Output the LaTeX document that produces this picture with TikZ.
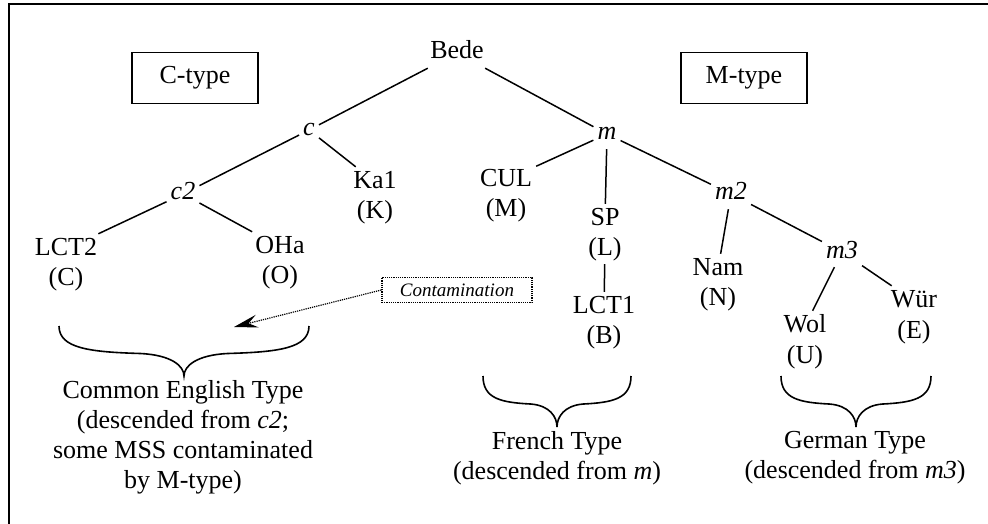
\documentclass[tikz,border=0pt]{standalone}
\usepackage{fontspec}
\setmainfont{Liberation Serif}
\usetikzlibrary{arrows.meta}
\tikzset{
  base/.style={font=\fontsize{26}{30}\selectfont},
  tn/.style={base, inner sep=4pt, text height=17pt, text depth=5pt},
  typebox/.style={base, draw, line width=1.5pt, minimum width=126pt, minimum height=51pt, inner sep=0pt},
  contam/.style={draw, densely dotted, line width=1.2pt, minimum width=150pt, minimum height=25pt, inner sep=0pt, font=\fontsize{19}{20}\selectfont\itshape},
  edge/.style={line width=1.5pt},
  contarrow/.style={densely dotted, line width=1.2pt, -{Stealth[length=24pt,width=13pt,inset=9pt]}},
  bracestyle/.style={line width=1.6pt},
  bracepic/.pic={\draw[bracestyle] (-1,0) .. controls (-1,0.45) and (-0.75,0.52) .. (-0.35,0.55) .. controls (-0.1,0.58) and (0,0.8) .. (0,1) .. controls (0,0.8) and (0.1,0.58) .. (0.35,0.55) .. controls (0.75,0.52) and (1,0.45) .. (1,0);},
  caption/.style={base, align=center, inner sep=0pt, execute at begin node={\setlength{\baselineskip}{30pt}}}
}
\begin{document}
\begin{tikzpicture}[x=1pt,y=-1pt]
\useasboundingbox (0,0) rectangle (988,524);
\draw[line width=2pt] (9,524) -- (9,4.3) -- (988,4.3);
% nodes
\node[tn] (bede) at (457,53) {Bede};
\node[typebox] (ctype) at (195,78) {C-type};
\node[typebox] (mtype) at (744,78) {M-type};
\node[tn] (c) at (309,130) {\textit{c}};
\node[tn] (m) at (607,134) {\textit{m}};
\node[tn] (c2) at (183,194) {\textit{c2}};
\node[tn] (ka1) at (375,182) {Ka1};
\node[tn] (K) at (375,212) {(K)};
\node[tn] (cul) at (506,180) {CUL};
\node[tn] (M) at (506,210) {(M)};
\node[tn] (sp) at (605,219) {SP};
\node[tn] (L) at (605,249) {(L)};
\node[tn] (lct1) at (604,307) {LCT1};
\node[tn] (B) at (604,337) {(B)};
\node[tn] (m2) at (731,194) {\textit{m2}};
\node[tn] (nam) at (718,269) {Nam};
\node[tn] (N) at (718,299) {(N)};
\node[tn] (m3) at (842,252) {\textit{m3}};
\node[tn] (wol) at (805,326) {Wol};
\node[tn] (U) at (805,357) {(U)};
\node[tn] (wur) at (914,301) {Wür};
\node[tn] (E) at (914,332) {(E)};
\node[tn] (lct2) at (66,249) {LCT2};
\node[tn] (C) at (66,279) {(C)};
\node[tn] (oha) at (280,247) {OHa};
\node[tn] (O) at (280,277) {(O)};
\node[contam] (cont) at (457,290) {Contamination};
\coordinate (arrowend) at (234,327);
% edges
\draw[edge] (bede) -- (c);
\draw[edge] (bede) -- (m);
\draw[edge] (c) -- (c2);
\draw[edge] (c) -- (ka1);
\draw[edge] (c2) -- (lct2);
\draw[edge] (c2) -- (oha);
\draw[edge] (m) -- (cul);
\draw[edge] (m) -- (sp);
\draw[edge] (m) -- (m2);
\draw[edge] (L) -- (lct1);
\draw[edge] (m2) -- (nam);
\draw[edge] (m2) -- (m3);
\draw[edge] (m3) -- (wol);
\draw[edge] (m3) -- (wur);
\draw[contarrow] (cont.west) -- (arrowend);
% braces
\path (184,326) pic[xscale=125,yscale=50] {bracepic};
\path (557,376) pic[xscale=74,yscale=51] {bracepic};
\path (856,376) pic[xscale=75,yscale=51] {bracepic};
% captions
\node[caption] (cet) at (183,437.5) {Common English Type\\(descended from \textit{c2};\\some MSS contaminated\\by M-type)};
\node[caption] (fr) at (557,458) {French Type\\(descended from \textit{m})};
\node[caption] (ge) at (855,458) {German Type\\(descended from \textit{m3})};
\end{tikzpicture}
\end{document}
